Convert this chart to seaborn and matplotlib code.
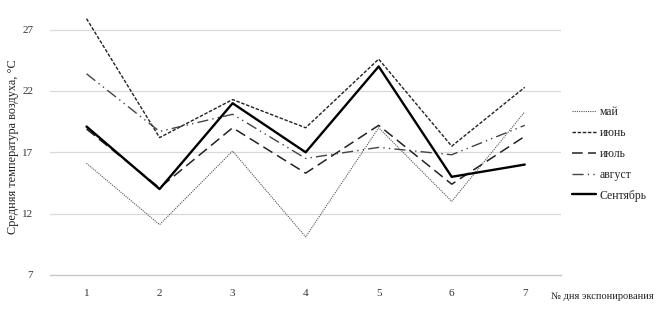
import pandas as pd
import matplotlib.pyplot as plt
import seaborn as sns

# exposure days and monthly mean air temperature
days = [1, 2, 3, 4, 5, 6, 7]
may = [16.1, 11.1, 17.1, 10.1, 19.0, 13.0, 20.3]
june = [27.9, 18.2, 21.3, 19.0, 24.6, 17.5, 22.3]
july = [18.9, 14.1, 19.0, 15.3, 19.2, 14.4, 18.3]
august = [23.4, 18.7, 20.1, 16.5, 17.4, 16.8, 19.2]
september = [19.1, 14.0, 21.0, 17.0, 24.0, 15.0, 16.0]

labels = ["май", "июнь", "июль", "август", "Сентябрь"]
series = [may, june, july, august, september]
styles = {
    "май": dict(color="#555555", lw=0.8, ls=(0, (1, 1))),
    "июнь": dict(color="#222222", lw=1.0, ls=(0, (2.5, 1.2))),
    "июль": dict(color="#222222", lw=1.1, ls=(0, (7, 3.5))),
    "август": dict(color="#444444", lw=1.0, ls=(0, (8, 3, 1, 3, 1, 3))),
    "Сентябрь": dict(color="#000000", lw=1.7, ls="-"),
}

df = pd.DataFrame({
    "day": days * len(labels),
    "temp": [v for s in series for v in s],
    "month": [m for m in labels for _ in days],
})

sns.set_theme(style="white")
plt.rcParams["font.family"] = ["Liberation Serif", "DejaVu Serif"]

fig = plt.figure(figsize=(6.58, 3.11), dpi=100)
ax = fig.add_axes([0.076, 0.116, 0.777, 0.828])

for m in labels:
    st = styles[m]
    sns.lineplot(data=df[df["month"] == m], x="day", y="temp", ax=ax,
                 color=st["color"], linewidth=st["lw"], linestyle=st["ls"], label=m)

ax.set_xlim(0.5, 7.5)
ax.set_ylim(7, 28)
ax.set_yticks([7, 12, 17, 22, 27])
ax.set_xticks(days)
ax.set_xticks([1.5, 2.5, 3.5, 4.5, 5.5, 6.5], minor=True)
ax.yaxis.grid(True, color="#d9d9d9", linewidth=0.9)
ax.xaxis.grid(False)
for s in ["top", "right", "left"]:
    ax.spines[s].set_visible(False)
ax.spines["bottom"].set_color("#c8c8c8")
ax.spines["bottom"].set_linewidth(1.0)
ax.tick_params(axis="y", length=0, labelsize=8, colors="#333333", pad=12)
ax.tick_params(axis="x", which="major", length=0, labelsize=8, colors="#333333", pad=10)
ax.tick_params(axis="x", which="minor", length=3, color="#c8c8c8", direction="in")

ax.set_xlabel("")
ax.set_ylabel("Средняя температура воздуха, °С", fontsize=8.8, color="#222222", labelpad=2)
fig.text(0.838, 0.04, "№ дня экспонирования", fontsize=7.5, color="#222222")

ax.legend(loc="center left", bbox_to_anchor=(1.0, 0.47), frameon=False,
          fontsize=8.5, handlelength=2.0, handletextpad=0.35, labelspacing=0.75)

fig.savefig("out.png", dpi=100)
